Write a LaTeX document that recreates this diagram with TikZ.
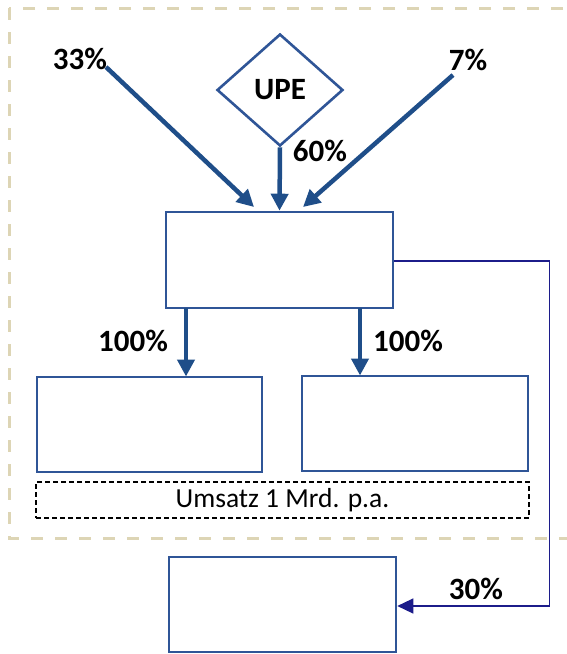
\documentclass[tikz,border=0pt]{standalone}
\usepackage{fontspec}
\setmainfont{Carlito}
\usetikzlibrary{arrows.meta,shapes.geometric}
\definecolor{boxblue}{HTML}{2F5597}
\definecolor{arrowblue}{HTML}{1F4E89}
\definecolor{navyline}{HTML}{1C1C8A}
\definecolor{frame}{HTML}{DDD5B5}
\tikzset{
  entity/.style={draw=boxblue, line width=2.6pt, fill=white, inner sep=0pt},
  share/.style={draw=arrowblue, line width=4.5pt, -{Triangle[length=17pt,width=17pt]}},
  pct/.style={font=\fontsize{31}{34}\selectfont\bfseries, inner sep=0pt},
  minority/.style={draw=navyline, line width=1.3pt, -{Triangle[length=16pt,width=15pt]}},
}
\begin{document}
\begin{tikzpicture}[x=1pt,y=-1pt]
\useasboundingbox (0,0) rectangle (567,654);
% consolidation frame (runs past the right edge)
\begin{scope}
\clip (0,0) rectangle (567,654);
\draw[frame, line width=3pt, dash pattern=on 12pt off 12pt] (9,8) rectangle (620,538);
\end{scope}
% entities
\node[entity, diamond, minimum width=126pt, minimum height=112pt, aspect=1.12,
      font=\fontsize{31}{34}\selectfont\bfseries] (upe) at (280,90) {UPE};
\node[entity, minimum width=227pt, minimum height=96pt] (hold) at (279.5,260) {};
\node[entity, minimum width=225pt, minimum height=95pt] (subl) at (149.5,424.5) {};
\node[entity, minimum width=226pt, minimum height=95pt] (subr) at (415,423.5) {};
\node[entity, minimum width=227pt, minimum height=95pt] (ext) at (282.5,604.5) {};
\node[draw=black, line width=1.8pt, dash pattern=on 5pt off 3pt, minimum width=493pt,
      minimum height=36pt, inner sep=0pt,
      font=\fontsize{27.5}{30}\selectfont] (sales) at (282.5,500) {Umsatz 1 Mrd. p.a.};
% shareholdings into the holding
\coordinate (sA) at (106,67);
\coordinate (sB) at (453,75);
\coordinate (tA) at (254,207);
\coordinate (tB) at (303,207);
\draw[share] (sA) -- (tA);
\draw[share] (sB) -- (tB);
\draw[share] (upe.south) -- (hold.north);
% holding into its subsidiaries
\coordinate (h1) at (186,308);
\coordinate (h2) at (360,308);
\coordinate (c1) at (186,376.5);
\coordinate (c2) at (360,375.5);
\draw[share] (h1) -- (c1);
\draw[share] (h2) -- (c2);
% minority stake
\coordinate (m1) at (549.5,261);
\coordinate (m2) at (549.5,606);
\draw[minority] (hold.east |- m1) -- (m1) -- (m2) -- (ext.east |- m2);
% percentages
\node[pct] (p33) at (80,59) {33\%};
\node[pct] (p7) at (468,60) {7\%};
\node[pct] (p60) at (320,151) {60\%};
\node[pct] (p100a) at (133,341) {100\%};
\node[pct] (p100b) at (408,341) {100\%};
\node[pct] (p30) at (476,589) {30\%};
\end{tikzpicture}
\end{document}
